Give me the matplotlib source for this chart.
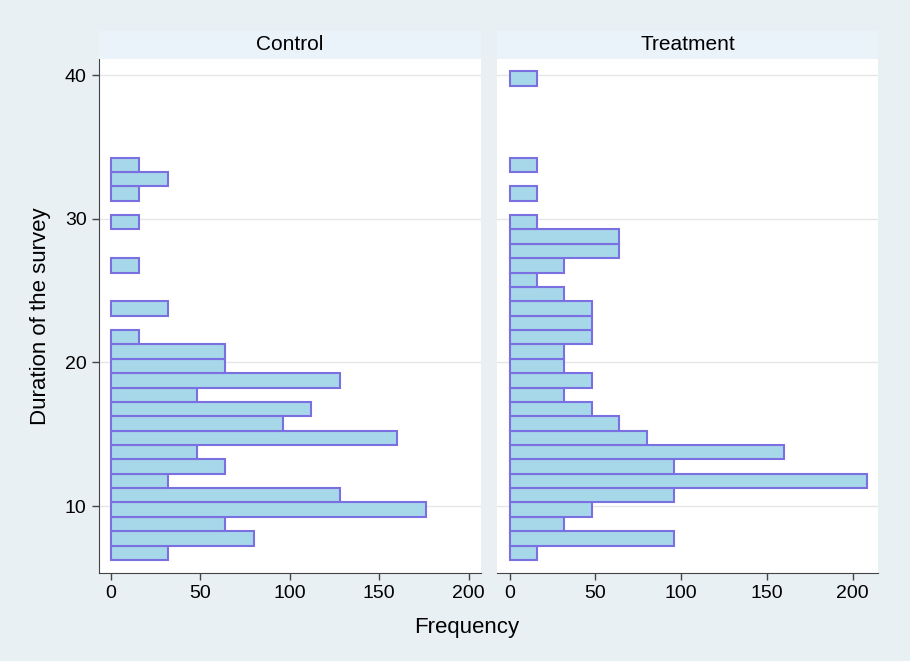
import matplotlib

matplotlib.use("Agg")
import matplotlib.pyplot as plt

# histogram bins: width 1, first bin starts at 6.25
bin_start = 6.25
bin_width = 1.0

panels = ["Control", "Treatment"]
control_freq = [32, 80, 64, 176, 128, 32, 64, 48, 160, 96, 112, 48, 128, 64,
                64, 16, 0, 32, 0, 0, 16, 0, 0, 16, 0, 16, 32, 16]
treatment_freq = [16, 96, 32, 48, 96, 208, 96, 160, 80, 64, 48, 32, 48, 32,
                  32, 48, 48, 48, 32, 16, 32, 64, 64, 16, 0, 16, 0, 16, 0, 0,
                  0, 0, 0, 16]
x_ticks = [0, 50, 100, 150, 200]
y_ticks = [10, 20, 30, 40]

BG = "#e9f0f3"
STRIP = "#eaf2fa"
FILL = "#a6d8ea"
EDGE = "#7a70e2"
AXIS = "#444444"

plt.rcParams["font.family"] = ["Liberation Sans", "DejaVu Sans"]

fig = plt.figure(figsize=(9.1, 6.61), dpi=100, facecolor=BG)

W, H = 910, 661
bottom, top = 573.3, 58.5
lefts = [98.5, 497.0]
rights = [480.5, 878.0]
xlims = [(-6.9, 206.6), (-7.3, 214.7)]
strip_top = 31.0

for k, (name, freq) in enumerate(zip(panels, [control_freq, treatment_freq])):
    l, r = lefts[k] / W, rights[k] / W
    ax = fig.add_axes([l, 1 - bottom / H, r - l, (bottom - top) / H])
    ax.set_facecolor("white")

    # empty bins are not drawn
    edges = [bin_start + i * bin_width for i, f in enumerate(freq) if f > 0]
    counts = [f for f in freq if f > 0]
    ax.barh(edges, counts, height=bin_width, align="edge", left=0,
            color=FILL, edgecolor=EDGE, linewidth=1.5, zorder=3)

    ax.set_ylim(5.32, 41.15)
    ax.set_xlim(*xlims[k])
    ax.set_xticks(x_ticks)
    ax.set_yticks(y_ticks)
    ax.grid(axis="y", color="#e6e6e6", linewidth=1.0, zorder=0)
    ax.tick_params(axis="both", labelsize=14, length=5, width=1.0,
                   color=AXIS, labelcolor="black", direction="out")
    for s in ["top", "right"]:
        ax.spines[s].set_visible(False)
    ax.spines["bottom"].set_color(AXIS)
    ax.spines["left"].set_color(AXIS)
    if k == 0:
        ax.set_ylabel("Duration of the survey", fontsize=16, labelpad=10)
    else:
        ax.spines["left"].set_visible(False)
        ax.tick_params(axis="y", left=False, labelleft=False)

    # panel strip
    sax = fig.add_axes([l, 1 - top / H, r - l, (top - strip_top) / H])
    sax.set_facecolor(STRIP)
    sax.set_xticks([])
    sax.set_yticks([])
    for s in sax.spines.values():
        s.set_visible(False)
    sax.text(0.5, 0.5, name, ha="center", va="center", fontsize=15,
             transform=sax.transAxes)

fig.text(467 / W, 1 - 628 / H, "Frequency", ha="center", va="center", fontsize=16)

fig.savefig("out.png", dpi=100, facecolor=BG)
